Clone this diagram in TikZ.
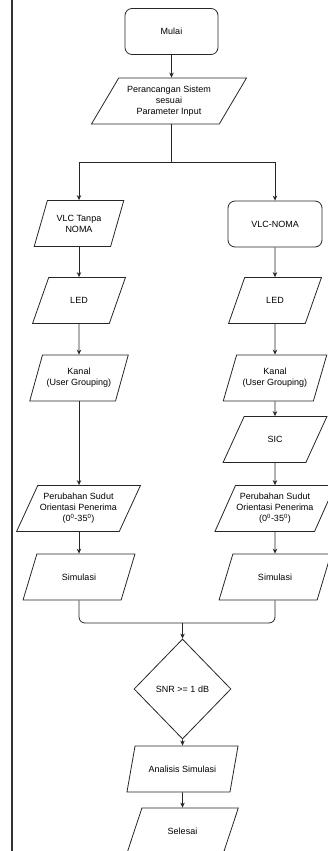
\documentclass[tikz,border=0pt]{standalone}
\usepackage{fontspec}
\setmainfont{Liberation Sans}
\usetikzlibrary{shapes.geometric,arrows.meta}
\begin{document}
\begin{tikzpicture}[x=1pt,y=-1pt,
  every node/.style={font=\fontsize{9}{11}\selectfont, align=center, text=black},
  term/.style={draw=black!85, line width=0.8pt, rounded corners=7pt, minimum height=46pt},
  io/.style={draw=black!85, line width=0.8pt, trapezium, trapezium stretches=true,
    trapezium left angle=66, trapezium right angle=114, minimum height=46pt, inner xsep=1pt},
  narrowio/.style={trapezium left angle=68, trapezium right angle=112},
  wideio/.style={trapezium left angle=61, trapezium right angle=119},
  decision/.style={draw=black!85, line width=0.8pt, diamond, minimum width=97pt, minimum height=100pt, inner sep=0pt},
  link/.style={draw=black!85, line width=0.8pt},
  arr/.style={link, -{Stealth[length=5pt,width=4.5pt]}}
]
\useasboundingbox (0,0) rectangle (328,851);
\draw[line width=2pt, black!80] (11.5,0) -- (11.5,851);

\node[term, minimum width=93pt] (mulai) at (171.5,31.5) {Mulai};
\node[io, minimum width=155pt, trapezium left angle=58, trapezium right angle=122] (param) at (169,101) {Perancangan Sistem\\sesuai\\Parameter Input};
\coordinate (split) at (171.5,162);

\node[io, narrowio, minimum width=90pt] (vlcA) at (79,223.5) {VLC Tanpa\\NOMA};
\node[term, minimum width=94pt] (vlcB) at (275,224) {VLC-NOMA};
\node[io, narrowio, minimum width=93pt] (ledA) at (79,300.5) {LED};
\node[io, narrowio, minimum width=93pt] (ledB) at (275,300.5) {LED};
\node[io, minimum width=99pt] (kanA) at (79,378) {Kanal\\(User Grouping)};
\node[io, minimum width=104pt] (kanB) at (275,378) {Kanal\\(User Grouping)};
\node[io, minimum width=104pt] (sic) at (275,439.5) {SIC};
\node[io, wideio, minimum width=124pt] (perA) at (78.5,508.5) {Perubahan Sudut\\Orientasi Penerima\\(0\textsuperscript{0}-35\textsuperscript{0})};
\node[io, wideio, minimum width=120pt] (perB) at (275,508.5) {Perubahan Sudut\\Orientasi Penerima\\(0\textsuperscript{0}-35\textsuperscript{0})};
\node[io, minimum width=112pt] (simA) at (79,577) {Simulasi};
\node[io, minimum width=112pt] (simB) at (275,577) {Simulasi};
\coordinate (merge) at (182.5,623);
\node[decision] (snr) at (182.5,689) {SNR >= 1 dB};
\node[io, minimum width=112pt] (anal) at (182.5,769) {Analisis Simulasi};
\node[io, minimum width=112pt] (selesai) at (182.5,831) {Selesai};

\draw[arr] (mulai.south) -- (mulai.south |- param.north);
\draw[link] (param.south -| split) -- (split);
\draw[arr] (split) -| (vlcA.north);
\draw[arr] (split) -| (vlcB.north);
\draw[arr] (vlcA.south -| ledA.north) -- (ledA.north);
\draw[arr] (vlcB.south) -- (ledB.north);
\draw[arr] (ledA.south) -- (kanA.north);
\draw[arr] (ledB.south) -- (kanB.north);
\draw[arr] (kanA.south) -- (perA.north -| kanA.south);
\draw[arr] (kanB.south) -- (sic.north);
\draw[arr] (sic.south) -- (perB.north);
\draw[arr] (perA.south -| simA.north) -- (simA.north);
\draw[arr] (perB.south) -- (simB.north);
\draw[link, rounded corners=6pt] (simA.south) |- (merge) -| (simB.south);
\draw[arr] (merge) -- (snr.north);
\draw[arr] (snr.south) -- (anal.north);
\draw[arr] (anal.south) -- (selesai.north);
\end{tikzpicture}
\end{document}
